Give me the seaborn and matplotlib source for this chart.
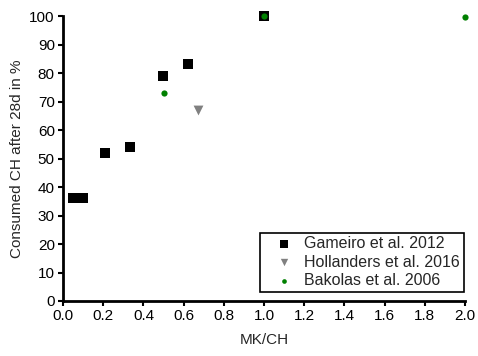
import matplotlib
matplotlib.use("Agg")
import matplotlib.pyplot as plt
import seaborn as sns
import pandas as pd

gameiro_x = [0.05, 0.10, 0.21, 0.335, 0.495, 0.62, 1.0]
gameiro_y = [36, 36, 52, 54, 79, 83, 100]
hollanders_x = [0.67]
hollanders_y = [67]
bakolas_x = [0.5, 1.0, 2.0]
bakolas_y = [73, 100, 99.5]
series = ["Gameiro et al. 2012", "Hollanders et al. 2016", "Bakolas et al. 2006"]

df = pd.DataFrame({
    "x": gameiro_x + hollanders_x + bakolas_x,
    "y": gameiro_y + hollanders_y + bakolas_y,
    "src": [series[0]] * len(gameiro_x) + [series[1]] * len(hollanders_x) + [series[2]] * len(bakolas_x),
})

sns.set_style("ticks")
plt.rcParams["font.family"] = ["Liberation Sans", "DejaVu Sans"]

fig = plt.figure(figsize=(4.78, 3.56), dpi=100)
ax = fig.add_axes([0.132, 0.1545, 0.841, 0.8005])

palette = {series[0]: "black", series[1]: "#808080", series[2]: "green"}
markers = {series[0]: "s", series[1]: "v", series[2]: "o"}
sizes = {series[0]: 50, series[1]: 50, series[2]: 20}
for s in series:
    sub = df[df.src == s]
    sns.scatterplot(data=sub, x="x", y="y", color=palette[s], marker=markers[s],
                    s=sizes[s], linewidth=0, ax=ax, label=s, clip_on=False, zorder=3)

fs = 11
ax.set_xlim(0, 2.0)
ax.set_ylim(0, 100)
ax.set_xticks([0.0, 0.2, 0.4, 0.6, 0.8, 1.0, 1.2, 1.4, 1.6, 1.8, 2.0])
ax.set_xticklabels(["0.0", "0.2", "0.4", "0.6", "0.8", "1.0", "1.2", "1.4", "1.6", "1.8", "2.0"])
ax.set_yticks(range(0, 101, 10))
ax.set_xlabel("MK/CH", fontsize=fs, labelpad=7)
ax.set_ylabel("Consumed CH after 28d in %", fontsize=fs, labelpad=4)
ax.tick_params(axis="both", labelsize=fs, width=1.5, length=3.5, color="black", labelcolor="black", pad=2.5)
for side in ["top", "right"]:
    ax.spines[side].set_visible(False)
for side in ["left", "bottom"]:
    ax.spines[side].set_linewidth(2)
    ax.spines[side].set_color("black")

leg = ax.legend(loc="lower right", bbox_to_anchor=(0.9975, 0.032), fontsize=11.5, frameon=True,
                fancybox=False, edgecolor="black", borderpad=0.25, handletextpad=0.1,
                labelspacing=0.2, handlelength=2.4, markerscale=0.75, borderaxespad=0)
leg.get_frame().set_linewidth(1.2)
leg.get_frame().set_alpha(1)

fig.savefig("out.png", dpi=100)
